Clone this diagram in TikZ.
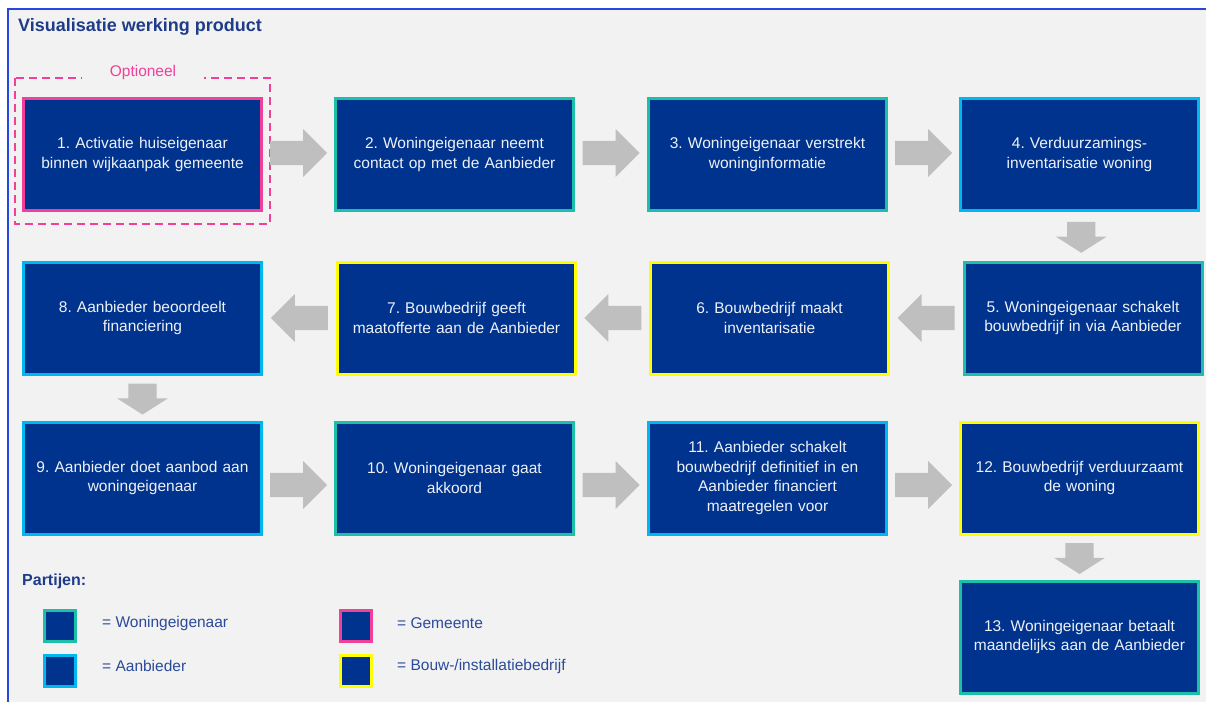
\documentclass[tikz,border=0pt]{standalone}
\usepackage{fontspec}
\setmainfont{Liberation Sans}
\usetikzlibrary{shapes.arrows}
\frenchspacing
\definecolor{bg}{HTML}{F2F2F2}
\definecolor{frame}{HTML}{2448E0}
\definecolor{boxfill}{HTML}{00338D}
\definecolor{cteal}{HTML}{1CC0A8}
\definecolor{ccyan}{HTML}{00B8F0}
\definecolor{cpink}{HTML}{F0409A}
\definecolor{cyell}{HTML}{FFFF00}
\definecolor{titleblue}{HTML}{1F3C88}
\definecolor{legblue}{HTML}{2A4A9A}
\definecolor{arrgrey}{HTML}{BFBFBF}
\definecolor{boxtext}{HTML}{EEF1F7}
\tikzset{
  x=1pt, y=-1pt,
  stepbox/.style={draw, line width=3pt, fill=boxfill, minimum width=238pt, minimum height=112pt,
    text width=226pt, align=center, text=boxtext, inner sep=0pt,
    font=\fontsize{15.5}{19.5}\selectfont},
  owner/.style={stepbox, draw=cteal},
  provider/.style={stepbox, draw=ccyan},
  council/.style={stepbox, draw=cpink},
  builder/.style={stepbox, draw=cyell},
  harrow/.style={single arrow, fill=arrgrey, draw=none, inner xsep=0pt, inner ysep=12pt,
    minimum height=57pt, single arrow head extend=11.75pt, single arrow tip angle=90, anchor=center},
  rarrow/.style={harrow, xshift=-6pt},
  larrow/.style={harrow, shape border rotate=180, xshift=6pt},
  varrow/.style={single arrow, fill=arrgrey, draw=none, inner xsep=0pt, inner ysep=14pt,
    minimum height=31pt, single arrow head extend=11pt, single arrow tip angle=115, anchor=center,
    yshift=3.5pt, rotate=-90},
  legsq/.style={draw, line width=3pt, fill=boxfill, minimum width=31pt, minimum height=31pt, inner sep=0pt},
  legtext/.style={anchor=west, text=legblue, font=\fontsize{15.5}{18}\selectfont, inner sep=0pt},
}
\begin{document}
\begin{tikzpicture}
\useasboundingbox (0,0) rectangle (1206,702);
% background and frame
\fill[bg] (9,10) rectangle (1206,702);
\draw[frame, line width=2pt] (8,702) -- (8,9) -- (1206,9);

% title
\node[anchor=west, text=titleblue, font=\bfseries\fontsize{18}{21}\selectfont, inner sep=0pt] (title) at (18,27) {Visualisatie werking product};

% optional frame
\draw[cpink, line width=1.6pt, dash pattern=on 8pt off 5pt] (15,78) rectangle (270,224);
\node[fill=bg, text=cpink, font=\fontsize{15.5}{18}\selectfont, inner xsep=28pt, inner ysep=2pt] (opt) at (143,72) {Optioneel};

% row 1
\node[council]  (b1) at (142.5,154.5) {1. Activatie huiseigenaar\\binnen wijkaanpak gemeente};
\node[owner]    (b2) at (454.5,154.5) {2. Woningeigenaar neemt\\contact op met de Aanbieder};
\node[owner]    (b3) at (767.5,154.5) {3. Woningeigenaar verstrekt\\woninginformatie};
\node[provider] (b4) at (1079.5,154.5) {4. Verduurzamings-\\inventarisatie woning};
% row 2
\node[owner]    (b5) at (1083,318) {5. Woningeigenaar schakelt\\bouwbedrijf in via Aanbieder};
\node[builder]  (b6) at (769.5,318) {6. Bouwbedrijf maakt\\inventarisatie};
\node[builder]  (b7) at (456.5,318) {7. Bouwbedrijf geeft\\maatofferte aan de Aanbieder};
\node[provider] (b8) at (142.5,318) {8. Aanbieder beoordeelt\\financiering};
% row 3
\node[provider] (b9)  at (142.5,478) {9. Aanbieder doet aanbod aan\\woningeigenaar};
\node[owner]    (b10) at (454.5,478) {10. Woningeigenaar gaat\\akkoord};
\node[provider] (b11) at (767.5,478) {11. Aanbieder schakelt\\bouwbedrijf definitief in en\\Aanbieder financiert\\maatregelen voor};
\node[builder]  (b12) at (1079.5,478) {12. Bouwbedrijf verduurzaamt\\de woning};
\node[owner]    (b13) at (1079.5,637) {13. Woningeigenaar betaalt\\maandelijks aan de Aanbieder};

% connectors (block arrows)
\path (b1) -- (b2) node[midway, rarrow, yshift=1.5pt] (a12) {};
\path (b2) -- (b3) node[midway, rarrow, yshift=1.5pt] (a23) {};
\path (b3) -- (b4) node[midway, rarrow, yshift=1.5pt] (a34) {};
\path (b4.south) -- (b5.north) node[midway, varrow] (a45) {};
\path (b5) -- (b6) node[midway, larrow] (a56) {};
\path (b6) -- (b7) node[midway, larrow] (a67) {};
\path (b7) -- (b8) node[midway, larrow] (a78) {};
\path (b8.south) -- (b9.north) node[midway, varrow] (a89) {};
\path (b9) -- (b10) node[midway, rarrow, yshift=-7pt] (a910) {};
\path (b10) -- (b11) node[midway, rarrow, yshift=-7pt] (a1011) {};
\path (b11) -- (b12) node[midway, rarrow, yshift=-7pt] (a1112) {};
\path (b12.south) -- (b13.north) node[midway, varrow] (a1213) {};

% legend
\node[anchor=west, text=titleblue, font=\bfseries\fontsize{16}{18}\selectfont, inner sep=0pt] (partijen) at (22,581) {Partijen:};
\node[legsq, draw=cteal] (l1) at (60,626) {};
\node[legsq, draw=ccyan] (l2) at (60,671) {};
\node[legsq, draw=cpink] (l3) at (356,626) {};
\node[legsq, draw=cyell] (l4) at (356,671) {};
\node[legtext] (t1) at (102,623) {= Woningeigenaar};
\node[legtext] (t2) at (102,666) {= Aanbieder};
\node[legtext] (t3) at (397,623) {= Gemeente};
\node[legtext] (t4) at (397,666) {= Bouw-/installatiebedrijf};
\end{tikzpicture}
\end{document}
